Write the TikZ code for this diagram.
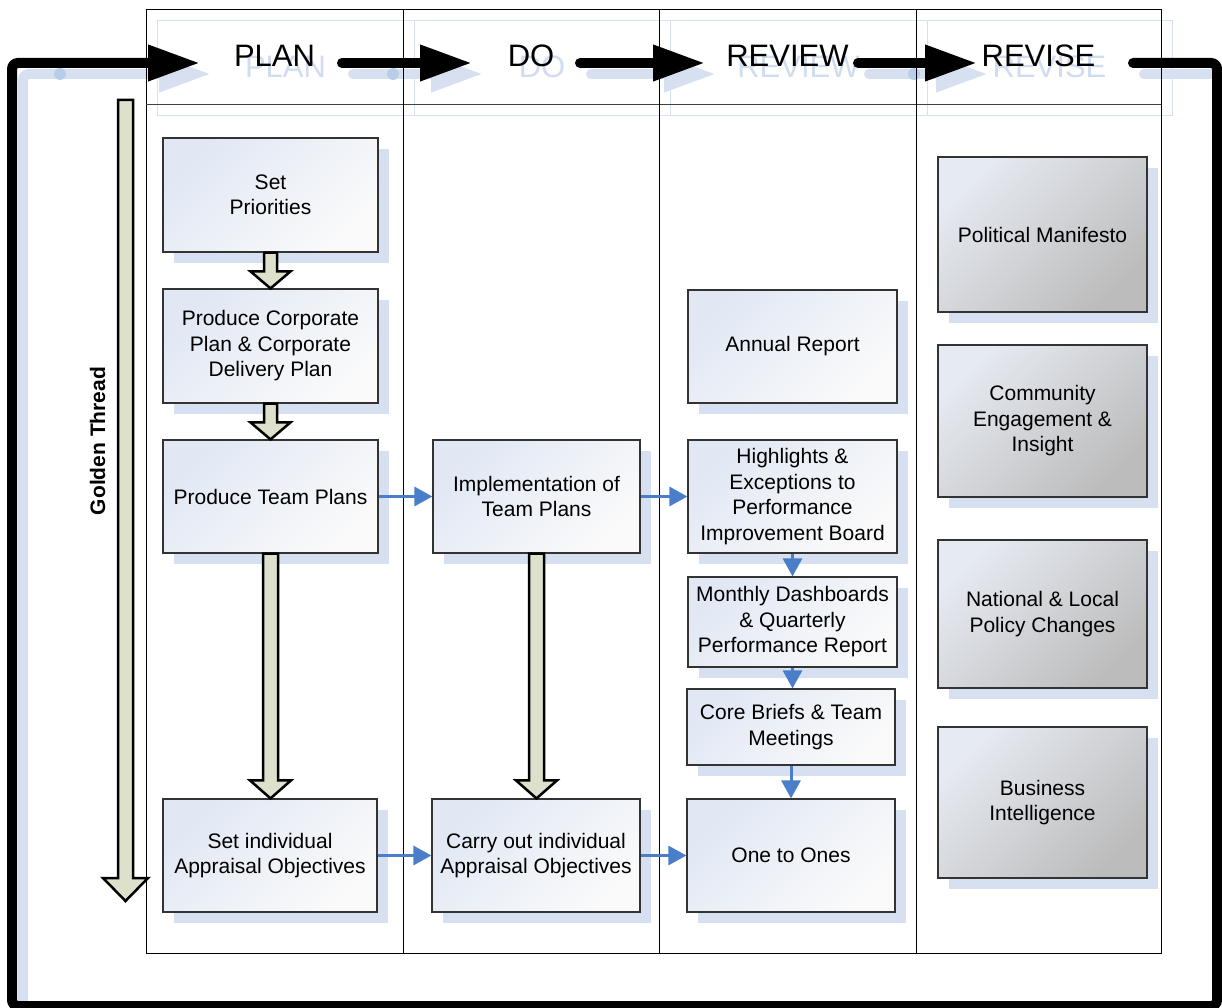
\documentclass[tikz,border=0pt]{standalone}
\usepackage{fontspec}
\setmainfont{Liberation Sans}
\usetikzlibrary{arrows.meta,shadows,calc}
\definecolor{shadowblue}{HTML}{D6E0F0}
\definecolor{ghost}{HTML}{D6E0F0}
\definecolor{ghostdot}{HTML}{BACDE8}
\definecolor{ghosttext}{HTML}{D0DCEF}
\definecolor{olivefill}{HTML}{DDE1CB}
\definecolor{flowblue}{HTML}{4A7EC8}
\definecolor{boxtl}{HTML}{E1E8F4}
\definecolor{boxbr}{HTML}{FAFAFA}
\definecolor{graytl}{HTML}{E6EAF1}
\definecolor{graybr}{HTML}{BCBCBC}
\newcommand{\blockdown}[5]{%
  \path[blockarrow] let \p1=(#1.south), \p2=(#2.north) in
    (\x1-#3pt,\y1) -- (\x1+#3pt,\y1) -- (\x1+#3pt,\y2+#5pt) -- (\x1+#4pt,\y2+#5pt)
    -- (\x1,\y2) -- (\x1-#4pt,\y2+#5pt) -- (\x1-#3pt,\y2+#5pt) -- cycle;}
\begin{document}
\begin{tikzpicture}[x=1pt,y=-1pt,
  boxbase/.style={draw=black!80, line width=1.2pt, align=center, inner sep=0pt,
    font=\fontsize{21}{25.5}\selectfont,
    drop shadow={shadow xshift=11pt, shadow yshift=-11pt, fill=shadowblue, opacity=1}},
  procbox/.style={boxbase, top color=boxtl, bottom color=boxbr, shading angle=45},
  graybox/.style={boxbase, top color=graytl, bottom color=graybr, shading angle=45},
  sz/.style 2 args={minimum width=#1pt, minimum height=#2pt},
  hdr/.style={font=\fontsize{31}{31}\selectfont, inner sep=0pt},
  tableline/.style={draw=black, line width=1pt},
  loopline/.style={draw=black, line width=10pt, line cap=round, rounded corners=6pt,
    -{Triangle[length=52pt,width=34pt]}},
  ghostline/.style={draw=ghost, line width=10pt, line cap=round, rounded corners=6pt,
    -{Triangle[length=52pt,width=34pt]}},
  blockarrow/.style={draw=black, line width=2.5pt, fill=olivefill, line join=miter},
  flow/.style={draw=flowblue, line width=3pt, -{Triangle[length=18pt,width=19pt]}}
]
\useasboundingbox (0,0) rectangle (1222,1008);
\fill[white] (0,0) rectangle (1222,1008);

% ---------- ghost (offset copy of header and loop) ----------
\begin{scope}[shift={(11,11)}]
  \draw[draw=ghost, line width=1pt] (146,10) rectangle (1161,105);
  \foreach \xx in {403,659,916} \draw[draw=ghost, line width=1pt] (\xx,10) -- (\xx,105);
  \draw[ghostline] (1133,63) -- (1217,63) -- (1217,1006) -- (12,1006) -- (12,63) -- (200,63);
  \draw[ghostline] (342,63) -- (472,63);
  \draw[ghostline] (580,63) -- (705,63);
  \draw[ghostline] (858,63) -- (977,63);
  \node[hdr, text=ghosttext] at (274.5,56) {PLAN};
  \node[hdr, text=ghosttext] at (531,56) {DO};
  \node[hdr, text=ghosttext] at (787.5,56) {REVIEW};
  \node[hdr, text=ghosttext] at (1038.5,56) {REVISE};
\end{scope}
\foreach \xx in {60,393,914} \fill[ghostdot] (\xx,74) circle (6pt);

% ---------- swim-lane table ----------
\draw[tableline] (146,10) rectangle (1161,953);
\draw[draw=black!75, line width=1pt] (146,105) -- (1161,105);
\foreach \xx in {403,659,916} \draw[tableline] (\xx,10) -- (\xx,953);

% ---------- black cycle loop ----------
\coordinate (c0) at (1133,63);
\coordinate (c1) at (1217,63);
\coordinate (c2) at (1217,1006);
\coordinate (c3) at (12,1006);
\coordinate (c4) at (12,63);
\coordinate (c5) at (200,63);
\coordinate (d0) at (342,63);
\coordinate (d1) at (472,63);
\coordinate (e0) at (580,63);
\coordinate (e1) at (705,63);
\coordinate (f0) at (858,63);
\coordinate (f1) at (977,63);
\draw[loopline] (c0) -- (c1) -- (c2) -- (c3) -- (c4) -- (c5);
\draw[loopline] (d0) -- (d1);
\draw[loopline] (e0) -- (e1);
\draw[loopline] (f0) -- (f1);

\node[hdr] (hplan) at (274.5,56) {PLAN};
\node[hdr] (hdo) at (531,56) {DO};
\node[hdr] (hreview) at (787.5,56) {REVIEW};
\node[hdr] (hrevise) at (1038.5,56) {REVISE};

% ---------- golden thread ----------
\path[blockarrow] (118,100) -- (133,100) -- (133,878) -- (148,878) -- (125.5,901)
  -- (103,878) -- (118,878) -- cycle;
\node[rotate=90, font=\bfseries\fontsize{21}{25}\selectfont, inner sep=0pt] (gt) at (97.5,441) {Golden Thread};

% ---------- process boxes ----------
\node[procbox, sz={215}{114}] (sp) at (270.5,195) {Set\\Priorities};
\node[procbox, sz={215}{114}] (pc) at (270.5,346) {Produce Corporate\\Plan \& Corporate\\Delivery Plan};
\node[procbox, sz={215}{113}] (tp) at (270.5,496.5) {Produce Team Plans};
\node[procbox, sz={214}{113}] (si) at (270,855.5) {Set individual\\Appraisal Objectives};
\node[procbox, sz={207}{113}] (im) at (536.5,496.5) {Implementation of\\Team Plans};
\node[procbox, sz={208}{113}] (co) at (536,855.5) {Carry out individual\\Appraisal Objectives};
\node[procbox, sz={209}{113}] (ar) at (792.5,346.5) {Annual Report};
\node[procbox, sz={209}{113}] (hi) at (792.5,496.5) {Highlights \&\\Exceptions to\\Performance\\Improvement Board};
\node[procbox, sz={209}{90}] (mo) at (792.5,622) {Monthly Dashboards\\\& Quarterly\\Performance Report};
\node[procbox, sz={208}{76}] (cb) at (791,727) {Core Briefs \& Team\\Meetings};
\node[procbox, sz={208}{113}] (oo) at (791,855.5) {One to Ones};

\node[graybox, sz={209}{155}] (pm) at (1042.5,234.5) {Political Manifesto};
\node[graybox, sz={209}{152}] (ce) at (1042.5,421) {Community\\Engagement \&\\Insight};
\node[graybox, sz={209}{148}] (nl) at (1042.5,614) {National \& Local\\Policy Changes};
\node[graybox, sz={209}{151}] (bi) at (1042.5,802.5) {Business\\Intelligence};

% ---------- block arrows ----------
\blockdown{sp}{pc}{6.5}{20}{17}
\blockdown{pc}{tp}{6.5}{20}{17}
\blockdown{tp}{si}{7.5}{20.5}{18}
\blockdown{im}{co}{7.5}{20.5}{18}

% ---------- blue flow arrows ----------
\draw[flow] (tp.east) -- (im.west);
\draw[flow] (im.east) -- (hi.west);
\draw[flow] (si.east) -- (co.west);
\draw[flow] (co.east) -- (oo.west);
\draw[flow] (hi.south) -- (hi.south |- mo.north);
\draw[flow] (mo.south) -- (mo.south |- cb.north);
\draw[flow] (cb.south) -- (cb.south |- oo.north);
\end{tikzpicture}
\end{document}
